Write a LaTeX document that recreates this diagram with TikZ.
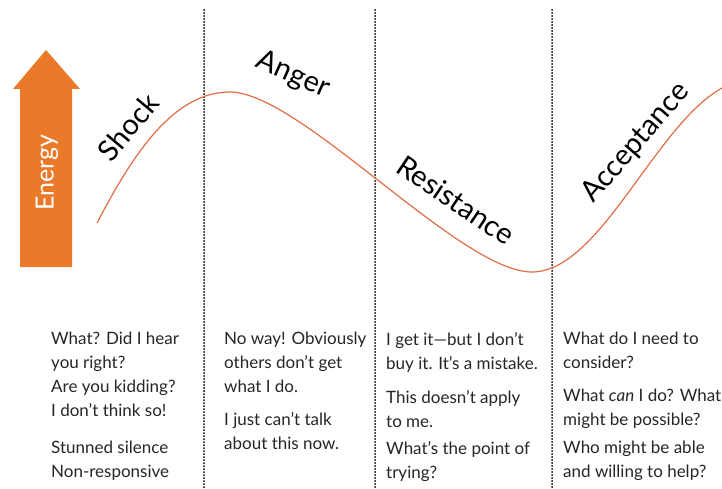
\documentclass[tikz,border=0pt]{standalone}
\usepackage{fontspec}
\setmainfont{Lato}
\usetikzlibrary{positioning}

\definecolor{energyorange}{RGB}{234,121,42}
\definecolor{curvered}{RGB}{226,108,68}

\tikzset{
  divider/.style={line width=2pt, line cap=round, dash pattern=on 0pt off 3pt},
  phase/.style={font={\fontsize{29}{34}\selectfont}, inner sep=0pt},
  saying/.style={anchor=north west, align=left, inner sep=0pt, text=black!85,
    font={\fontsize{17}{24}\selectfont}}
}

\begin{document}
\begin{tikzpicture}[x=1pt, y=-1pt]
  \useasboundingbox (0,0) rectangle (722,489);

  % energy arrow
  \fill[energyorange] (20,267) -- (20,89) -- (13,89) -- (46,50) -- (80,89) -- (72,89) -- (72,267) -- cycle;
  \node (energy) [rotate=90, text=white, font={\fontsize{25}{28}\selectfont}] at (47,173) {Energy};

  % phase borders
  \foreach \x/\name in {204/shockend, 375/angerend, 552/resistend} {
    \coordinate (\name top) at (\x,10);
    \coordinate (\name bot) at (\x,489);
    \draw[divider] (\name top) -- (\name bot);
  }

  % change curve
  \coordinate (start) at (97,223);
  \coordinate (peak) at (230,92);
  \coordinate (low) at (532,272);
  \coordinate (finish) at (722,88);
  \draw[curvered, line width=1.2pt] (start) .. controls (135,150) and (175,92) .. (peak)
    .. controls (300,92) and (460,272) .. (low)
    .. controls (600,272) and (655,125) .. (finish);

  % phase names
  \node (shock) [phase, rotate=50] at (128,127) {Shock};
  \node (anger) [phase, rotate=-24] at (293,75) {Anger};
  \node (resistance) [phase, rotate=-34] at (456,200) {Resistance};
  \node (acceptance) [phase, rotate=49] at (636,143) {Acceptance};

  % what people say
  \node (shockA) [saying] at (51,332) {What? Did I hear\\you right?\\Are you kidding?\\I don’t think so!};
  \node (shockB) [saying] at (51,441) {Stunned silence\\Non-responsive};
  \node (angerA) [saying] at (224,332) {No way! Obviously\\others don’t get\\what I do.};
  \node (angerB) [saying] at (224,412) {I just can’t talk\\about this now.};
  \node (resistA) [saying] at (386,332) {I get it—but I don’t\\buy it. It’s a mistake.};
  \node (resistB) [saying] at (386,390) {This doesn’t apply\\to me.};
  \node (resistC) [saying] at (386,441) {What’s the point of\\trying?};
  \node (acceptA) [saying] at (563,332) {What do I need to\\consider?};
  \node (acceptB) [saying] at (563,389) {What \textit{can} I do? What\\might be possible?};
  \node (acceptC) [saying] at (563,441) {Who might be able\\and willing to help?};
\end{tikzpicture}
\end{document}
